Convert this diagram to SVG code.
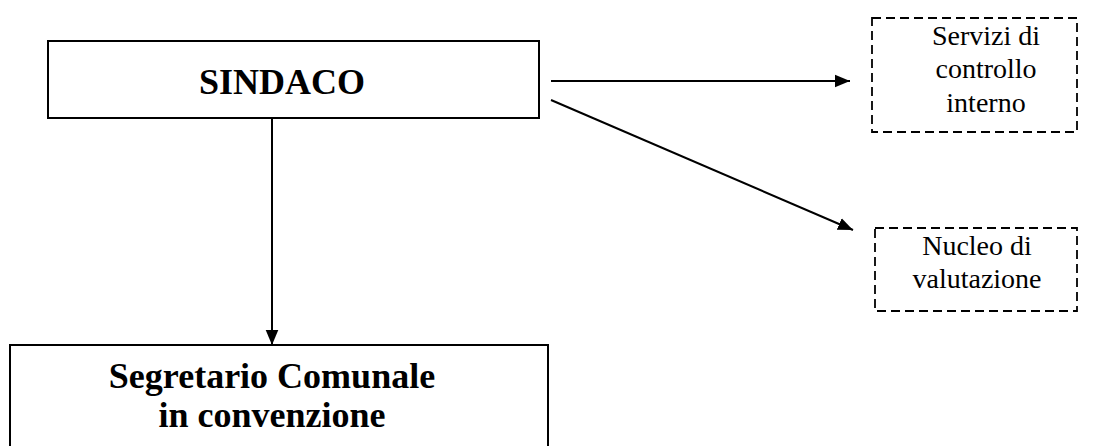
<svg xmlns="http://www.w3.org/2000/svg" width="1106" height="446" viewBox="0 0 1106 446">
<style>
.box{fill:#fff;stroke:#000;stroke-width:2}
.dash{fill:#fff;stroke:#000;stroke-width:1.8;stroke-dasharray:9,5}
.bt{font-family:"Liberation Serif",serif;font-weight:bold;font-size:36px;fill:#000;text-anchor:middle}
.t{font-family:"Liberation Serif",serif;font-size:28px;fill:#000;text-anchor:middle}
.c{stroke:#000;stroke-width:2;fill:none}
</style>
<defs>
<marker id="a" viewBox="0 0 10 10" refX="10" refY="5" markerWidth="15" markerHeight="15" markerUnits="userSpaceOnUse" orient="auto">
<path d="M0,0.8 L10,5 L0,9.2 z" fill="#000"/>
</marker>
</defs>
<g id="sindaco">
<rect class="box" x="48" y="41" width="491" height="77"/>
<text class="bt" x="282" y="94">SINDACO</text>
</g>
<g id="segretario">
<rect class="box" x="10" y="345" width="538" height="110"/>
<text class="bt" x="272" y="388">Segretario Comunale</text>
<text class="bt" x="272" y="427">in convenzione</text>
</g>
<g id="servizi">
<rect class="dash" x="872" y="18" width="205" height="114"/>
<text class="t" x="986" y="45">Servizi di</text>
<text class="t" x="986" y="78">controllo</text>
<text class="t" x="986" y="112">interno</text>
</g>
<g id="nucleo">
<rect class="dash" x="875" y="228" width="202" height="83"/>
<text class="t" x="977" y="255">Nucleo di</text>
<text class="t" x="977" y="288">valutazione</text>
</g>
<g id="connectors">
<line class="c" x1="551" y1="81" x2="850" y2="81" marker-end="url(#a)"/>
<line class="c" x1="551" y1="100" x2="853" y2="230" marker-end="url(#a)"/>
<line class="c" x1="272" y1="118" x2="272" y2="345" marker-end="url(#a)"/>
</g>
</svg>
